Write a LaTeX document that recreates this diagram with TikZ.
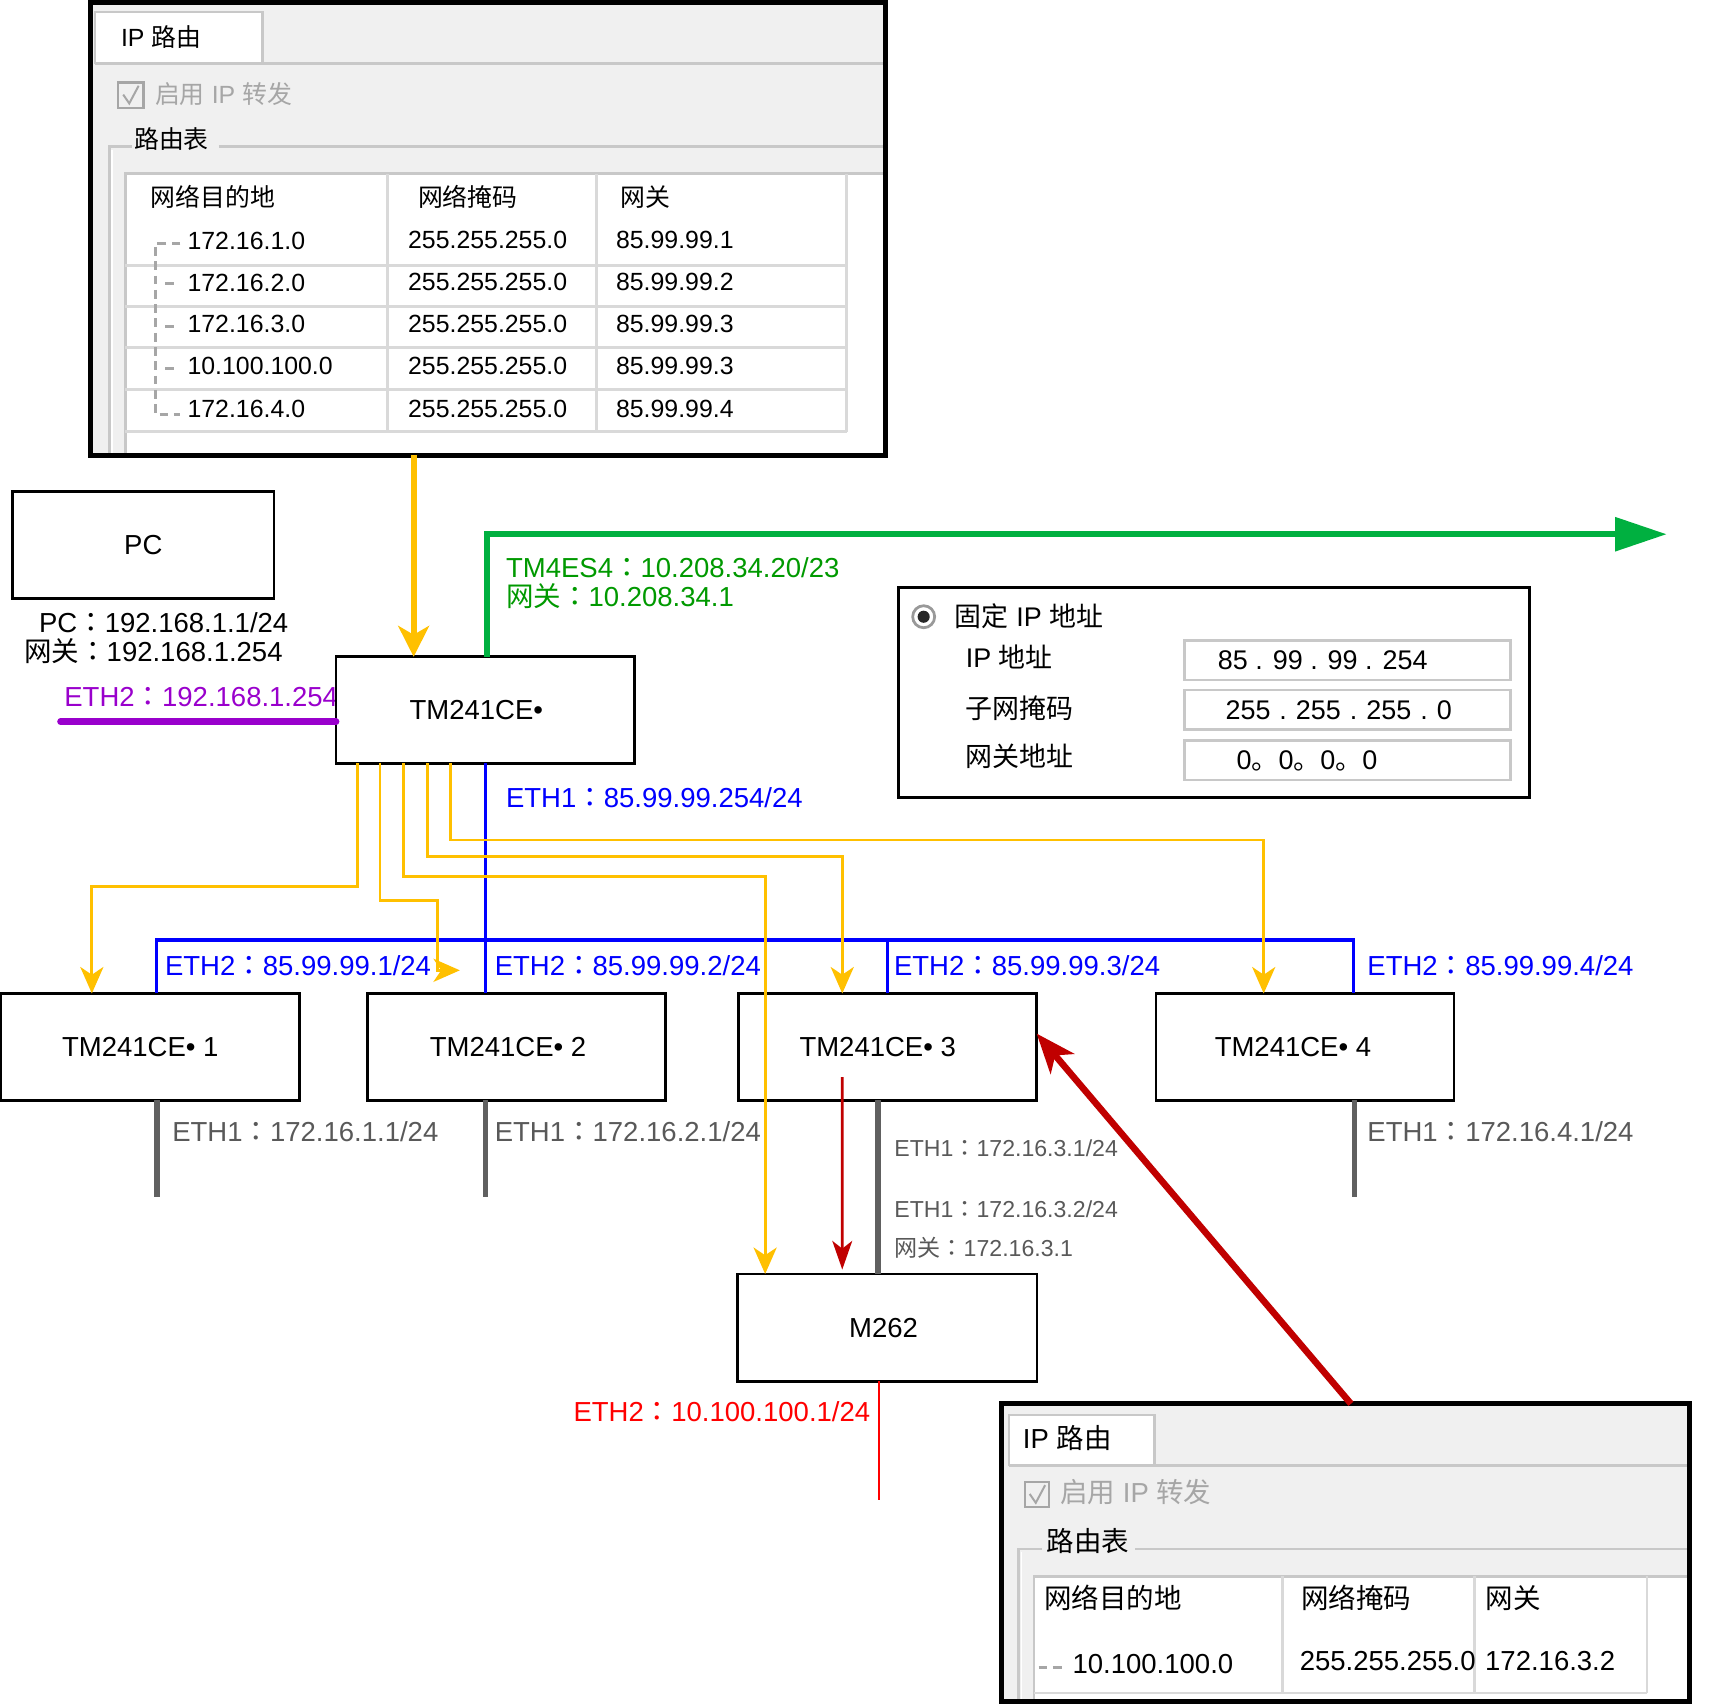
\documentclass[tikz,border=0pt]{standalone}
\usepackage{fontspec}
\setmainfont{Liberation Sans}
\newfontfamily\cjk{Noto Sans CJK SC}
\newfontfamily\cjkc{Noto Sans CJK TC}
\usetikzlibrary{arrows.meta}
\definecolor{ylw}{HTML}{FFC000}
\definecolor{grn}{HTML}{00B040}
\definecolor{grntxt}{HTML}{009900}
\definecolor{blu}{HTML}{0000FF}
\definecolor{pur}{HTML}{9900CC}
\definecolor{dred}{HTML}{C00000}
\definecolor{rd}{HTML}{FF0000}
\definecolor{lnk}{HTML}{606060}
\definecolor{gtxt}{HTML}{595959}
\definecolor{panel}{HTML}{F0F0F0}
\definecolor{frm}{HTML}{C8C8C8}
\definecolor{gridc}{HTML}{D9D9D9}
\definecolor{dis}{HTML}{A6A6A6}
\newcommand{\zh}[1]{{\cjk #1}}
\newcommand{\col}{{\cjkc ：}}
\begin{document}
\begin{tikzpicture}[x=1pt,y=-1pt,
  every node/.style={inner sep=0pt, outer sep=0pt},
  t/.style={anchor=base west},
  tr/.style={anchor=base east},
  f25/.style={font=\fontsize{25}{30}\selectfont},
  f24/.style={font=\fontsize{24.5}{29}\selectfont},
  f22/.style={font=\fontsize{22.6}{27}\selectfont},
  f21/.style={font=\fontsize{21}{25}\selectfont},
  dev/.style={draw=black, line width=2.5pt, fill=white, minimum width=271pt, minimum height=97pt, f25},
  fld/.style={draw=frm, line width=2.5pt, fill=white, minimum width=296pt, minimum height=36pt},
  yl/.style={draw=ylw, line width=2.5pt, -{Stealth[length=24pt,width=21pt,inset=7pt]}},
  bl/.style={draw=blu, line width=3pt},
  gl/.style={draw=lnk, line width=5pt},
  tree/.style={draw=dis, line width=2.6pt, dash pattern=on 8pt off 5pt},
  grd/.style={draw=gridc, line width=2.5pt},
  frmline/.style={draw=frm, line width=2.5pt}
]
\useasboundingbox (0,0) rectangle (1558,1549);

% ================= top routing panel =================
\node[fill=panel, minimum width=723pt, minimum height=412pt] (p1) at (443.5,208) {};
\draw[frmline] (86.5,58) -- (805,58);
\node[fill=white, draw=frm, line width=2pt, minimum width=152pt, minimum height=47pt] (p1tab) at (162.6,34.1) {};
\node[t,f22] (p1tabt) at (110,42.1) {IP \zh{路由}};
\node[draw=dis, line width=2pt, fill=panel, minimum width=23pt, minimum height=23pt] (p1cb) at (119,86.5) {};
\draw[dis, line width=1.8pt] (112,86) -- (117.5,94) -- (126,78);
\node[t,f22,text=dis] (p1en) at (141,94.1) {\zh{启用} IP \zh{转发}};
\draw[frmline] (119.6,133.3) -- (99.6,133.3) -- (99.6,414);
\draw[frmline] (199,133.3) -- (805,133.3);
\draw[white, line width=1.5pt] (102,136) -- (102,414);
\node[t,f22] (p1grp) at (122,135.1) {\zh{路由表}};
\fill[white] (114,158) rectangle (805,414);
\draw[frmline] (114,414) -- (114,158) -- (805,158);
\foreach \yy in {241,278.5,316,354,392.5} \draw[grd] (114,\yy) -- (769.6,\yy);
\foreach \xx in {352.5,542,769.6} \draw[grd] (\xx,158) -- (\xx,392.5);
\node[t,f22] (h1) at (137,188.1) {\zh{网络目的地}};
\node[t,f22] (h2) at (380,188.1) {\zh{网络掩码}};
\node[t,f22] (h3) at (564,188.1) {\zh{网关}};
\node[t,f22] (r1a) at (170.5,226.6) {172.16.1.0};
\node[t,f22] (r1b) at (371,226.1) {255.255.255.0};
\node[t,f22] (r1c) at (560,226.1) {85.99.99.1};
\node[t,f22] (r2a) at (170.5,264.6) {172.16.2.0};
\node[t,f22] (r2b) at (371,264.1) {255.255.255.0};
\node[t,f22] (r2c) at (560,264.1) {85.99.99.2};
\node[t,f22] (r3a) at (170.5,302.6) {172.16.3.0};
\node[t,f22] (r3b) at (371,302.1) {255.255.255.0};
\node[t,f22] (r3c) at (560,302.1) {85.99.99.3};
\node[t,f22] (r4a) at (170.5,340.6) {10.100.100.0};
\node[t,f22] (r4b) at (371,340.1) {255.255.255.0};
\node[t,f22] (r4c) at (560,340.1) {85.99.99.3};
\node[t,f22] (r5a) at (170.5,379.6) {172.16.4.0};
\node[t,f22] (r5b) at (371,379.1) {255.255.255.0};
\node[t,f22] (r5c) at (560,379.1) {85.99.99.4};
\draw[tree] (164,221) -- (141.5,221) -- (141.5,377) -- (164,377);
\foreach \yy in {258,297,335} \draw[tree, dash pattern=on 8pt off 3pt] (150,\yy) -- (161,\yy);
\draw[black, line width=4.5pt] (p1.north west) rectangle (p1.south east);

% ================= bottom routing panel =================
\node[fill=panel, minimum width=625.5pt, minimum height=271pt] (p2) at (1222.75,1411.5) {};
\draw[frmline] (917,1332) -- (1535.5,1332);
\node[fill=white, draw=frm, line width=2pt, minimum width=132.5pt, minimum height=46pt] (p2tab) at (983.25,1309) {};
\node[t,f25] (p2tabt) at (929.8,1316.5) {IP \zh{路由}};
\node[draw=dis, line width=2pt, fill=panel, minimum width=21.6pt, minimum height=22.7pt] (p2cb) at (942.8,1358.35) {};
\draw[dis, line width=1.8pt] (936,1358) -- (941.5,1366) -- (950,1350);
\node[t,f25,text=dis] (p2en) at (963.7,1366) {\zh{启用} IP \zh{转发}};
\draw[frmline] (947,1408) -- (926,1408) -- (926,1547);
\draw[frmline] (1032,1408) -- (1535.5,1408);
\draw[white, line width=1.5pt] (928.5,1411) -- (928.5,1547);
\node[t,f25] (p2grp) at (951.5,1410.5) {\zh{路由表}};
\fill[white] (939.8,1432.7) rectangle (1535.5,1547);
\draw[frmline] (939.8,1547) -- (939.8,1432.7) -- (1535.5,1432.7);
\foreach \xx in {1165.6,1340.5,1497} \draw[grd] (\xx,1432.7) -- (\xx,1539);
\draw[grd] (939.8,1539) -- (1497,1539);
\node[t,f25] (bh1) at (949,1462) {\zh{网络目的地}};
\node[t,f25] (bh2) at (1183,1462) {\zh{网络掩码}};
\node[t,f25] (bh3) at (1350.5,1462) {\zh{网关}};
\node[t,f25] (bra) at (975,1521) {10.100.100.0};
\node[t,f25] (brb) at (1181.5,1518) {255.255.255.0};
\node[t,f25] (brc) at (1350,1518) {172.16.3.2};
\draw[tree] (944,1516) -- (968,1516);
\draw[black, line width=4.5pt] (p2.north west) rectangle (p2.south east);

% ================= fixed IP panel =================
\node[draw=black, line width=2.5pt, fill=white, minimum width=573pt, minimum height=191pt] (p3) at (1103.5,629.5) {};
\fill[white] (839.6,560.6) circle (11pt);
\draw[black!40, line width=2.5pt] (839.6,560.6) circle (10pt);
\fill[black!85] (839.6,560.6) circle (5.5pt);
\node[t,f24] (fixt) at (868,569.4) {\zh{固定} IP \zh{地址}};
\node[t,f24] (ipl) at (878,606.8) {IP \zh{地址}};
\node[t,f24] (mkl) at (878,652.8) {\zh{子网掩码}};
\node[t,f24] (gwl) at (878,696.8) {\zh{网关地址}};
\node[fld] (fld1) at (1225,600) {};
\node[fld] (fld2) at (1225,645.3) {};
\node[fld] (fld3) at (1225,690.9) {};
\node[t,f24] (fv1) at (1107,608.8) {85 . 99 . 99 . 254};
\node[t,f24] (fv2) at (1114,654.1) {255\,\,.\,\,255\,\,.\,\,255\,\,.\,\,0};
\node[t,f24] (fv3) at (1124,699.7) {0\zh{。}0\zh{。}0\zh{。}0};

% ================= labels =================
\node[t,f25] (pcip) at (35.5,575) {PC\col192.168.1.1/24};
\node[t,f25] (pcgw) at (22,601.4) {\zh{网关}\col192.168.1.254};
\node[t,f25,text=pur] (eth2pc) at (58.5,642) {ETH2\col192.168.1.254};
\node[t,f25,text=grntxt] (tm4) at (460,525) {TM4ES4\col10.208.34.20/23};
\node[t,f25,text=grntxt] (tm4gw) at (460,551.4) {\zh{网关}\col10.208.34.1};
\node[t,f25,text=blu] (eth1m) at (460,733.8) {ETH1\col85.99.99.254/24};
\node[t,f25,text=blu] (e21) at (150,887) {ETH2\col85.99.99.1/24};
\node[t,f25,text=blu] (e22) at (449.8,887) {ETH2\col85.99.99.2/24};
\node[t,f25,text=blu] (e23) at (812.7,887) {ETH2\col85.99.99.3/24};
\node[t,f25,text=blu] (e24) at (1243,887) {ETH2\col85.99.99.4/24};
\node[t,f25,text=gtxt] (e11) at (156.6,1038) {ETH1\col172.16.1.1/24};
\node[t,f25,text=gtxt] (e12) at (449.8,1038) {ETH1\col172.16.2.1/24};
\node[t,f25,text=gtxt] (e14) at (1243,1038) {ETH1\col172.16.4.1/24};
\node[t,f21,text=gtxt] (e13) at (813,1051.3) {ETH1\col172.16.3.1/24};
\node[t,f21,text=gtxt] (e13m) at (813,1106.6) {ETH1\col172.16.3.2/24};
\node[t,f21,text=gtxt] (e13g) at (813,1142.3) {\zh{网关}\col172.16.3.1};
\node[tr,f25,text=rd] (e2m) at (791,1291.7) {ETH2\col10.100.100.1/24};

% ================= devices =================
\node[dev, minimum width=237.5pt] (pc) at (130.25,495.5) {PC};
\node[dev] (main) at (441,645.5) {TM241CE•\kern16pt};
\node[dev] (box1) at (136.5,951.5) {TM241CE• 1\kern18pt};
\node[dev] (box2) at (469.75,951.5) {TM241CE• 2\kern16pt};
\node[dev] (box3) at (806.8,951.5) {TM241CE• 3\kern18pt};
\node[dev] (box4) at (1186.25,951.5) {TM241CE• 4\kern22pt};
\node[dev, minimum width=272pt, minimum height=97.5pt] (m262) at (806.65,1206.75) {M262\kern7pt};

% ================= connectors =================
\coordinate (pcl) at (55,656);
\coordinate (gend) at (1515,485.6);
\coordinate (b2end) at (418,882);
% purple
\draw[pur, line width=6pt, line cap=round] (pcl) -- ([yshift=-10.5pt]main.west);
% green
\draw[grn, line width=5.5pt, -{Triangle[length=47pt,width=30pt]}] ([xshift=1.4pt]main.north) |- (gend);
% thick yellow
\draw[ylw, line width=5.5pt, -{Stealth[length=28pt,width=28pt,inset=8pt]}] ([xshift=-67.5pt]p1.south) -- ([xshift=-65pt]main.north);
% blue
\draw[bl] (main.south) -- (441,854.5);
\draw[bl] ([xshift=6pt]box1.north) -- (142.5,854.5) -- (1230,854.5) -- ([xshift=43.75pt]box4.north);
\draw[bl] ([xshift=-28.25pt]box2.north) -- (441.5,854.5);
\draw[bl] (box3.north) -- (806.8,854.5);
% gray
\draw[gl] ([xshift=6pt]box1.south) -- ++(0,88);
\draw[gl] ([xshift=-28.25pt]box2.south) -- ++(0,88);
\draw[gl] ([xshift=44.75pt]box4.south) -- ++(0,88);
\draw[gl] ([xshift=-8.8pt]box3.south) -- ([xshift=-8.65pt]m262.north);
% red thin
\draw[rd, line width=2.5pt] ([xshift=-7.65pt]m262.south) -- ++(0,108);
% yellow thin
\draw[yl] ([xshift=-116.2pt]main.south) |- (83.5,806) -- ([xshift=-53pt]box1.north);
\draw[yl] ([xshift=-95.5pt]main.south) |- (397.9,818.8) -- (397.9,882) -- (b2end);
\draw[yl] ([xshift=-74.3pt]main.south) |- (695.5,797) -- ([xshift=-111.15pt]m262.north);
\draw[yl] ([xshift=-52.5pt]main.south) |- (765.6,778.8) -- ([xshift=-41.2pt]box3.north);
\draw[yl] ([xshift=-31.3pt]main.south) |- (1148.7,763.6) -- ([xshift=-37.55pt]box4.north);
% dark red
\draw[dred, line width=2.5pt, -{Stealth[length=26pt,width=18pt,inset=7pt]}] (765.6,979) -- ([xshift=-41.05pt,yshift=4pt]m262.north);
\draw[dred, line width=6pt, -{Stealth[length=36pt,width=28pt,inset=10pt]}] ([xshift=5.25pt]p2.north) -- ([yshift=12pt]box3.east);
\end{tikzpicture}
\end{document}
